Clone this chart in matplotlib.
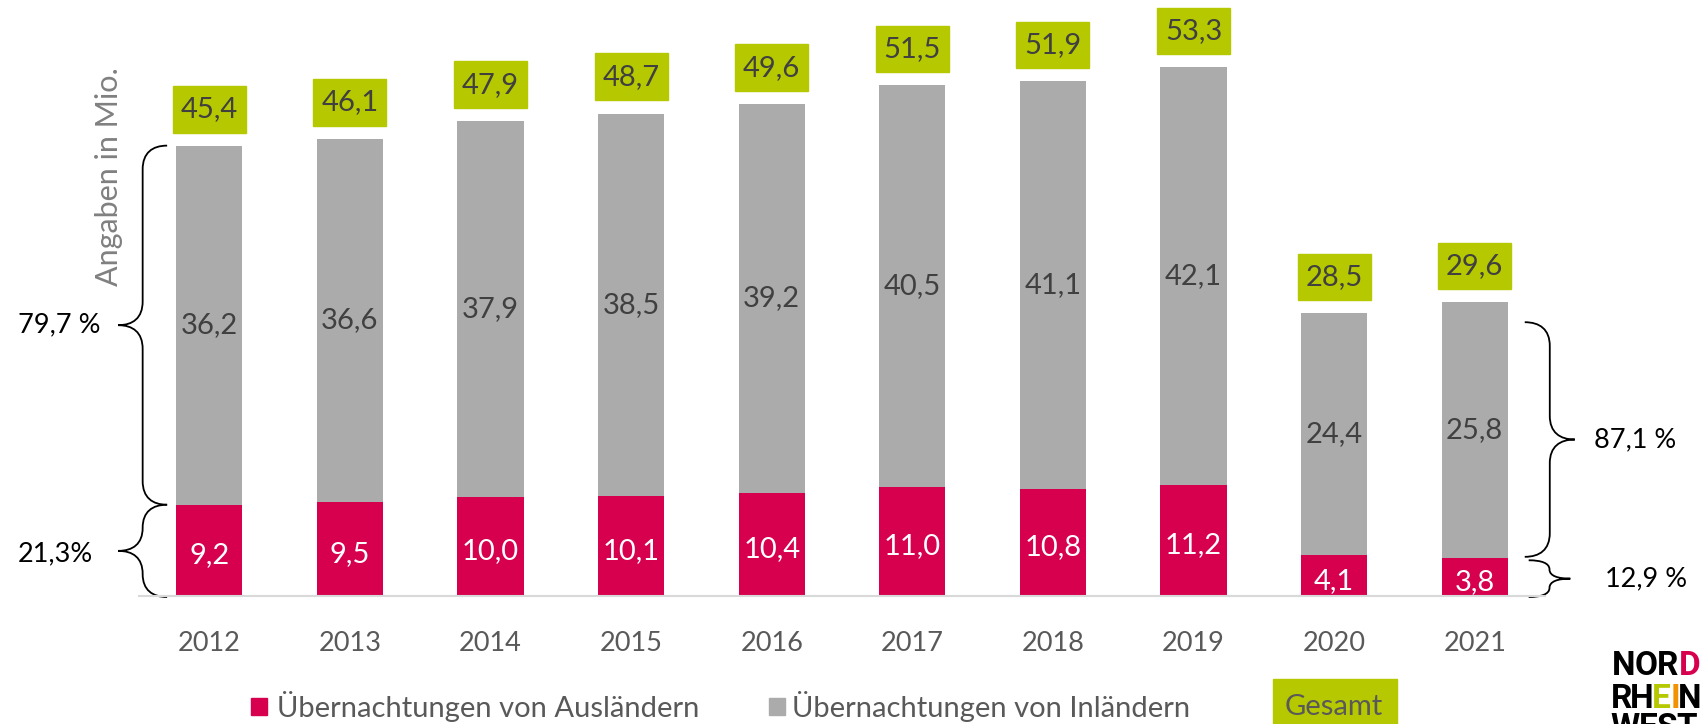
import matplotlib.pyplot as plt
from matplotlib.patches import Rectangle, PathPatch
from matplotlib.path import Path
import numpy as np

plt.rcParams['font.family'] = ['Lato', 'DejaVu Sans']

years = ['2012', '2013', '2014', '2015', '2016', '2017', '2018', '2019', '2020', '2021']
auslaender = [9.2, 9.5, 10.0, 10.1, 10.4, 11.0, 10.8, 11.2, 4.1, 3.8]
inlaender = [36.2, 36.6, 37.9, 38.5, 39.2, 40.5, 41.1, 42.1, 24.4, 25.8]
gesamt = [45.4, 46.1, 47.9, 48.7, 49.6, 51.5, 51.9, 53.3, 28.5, 29.6]

anteil_links = ['79,7 %', '21,3%']
anteil_rechts = ['87,1 %', '12,9 %']

pink = '#d6004f'
grey = '#ababab'
green = '#b5c800'
dark = '#404040'


def fmt(v):
    return f'{v:.1f}'.replace('.', ',')


def brace(ax, x_tip, x_end, y0, y1, r=2.4):
    # geschweifte Klammer, Spitze bei x_tip
    xm = (x_tip + x_end) / 2
    ym = (y0 + y1) / 2
    r = min(r, (y1 - y0) / 4)
    verts = [(x_end, y1),
             (x_end - (x_end - xm) * 0.6, y1), (xm, y1 - r * 0.3), (xm, y1 - r),
             (xm, ym + r),
             (xm, ym + r * 0.3), (xm - (xm - x_tip) * 0.4, ym), (x_tip, ym),
             (xm - (xm - x_tip) * 0.4, ym), (xm, ym - r * 0.3), (xm, ym - r),
             (xm, y0 + r),
             (xm, y0 + r * 0.3), (x_end - (x_end - xm) * 0.6, y0), (x_end, y0)]
    codes = [Path.MOVETO, Path.CURVE4, Path.CURVE4, Path.CURVE4, Path.LINETO,
             Path.CURVE4, Path.CURVE4, Path.CURVE4,
             Path.CURVE4, Path.CURVE4, Path.CURVE4, Path.LINETO,
             Path.CURVE4, Path.CURVE4, Path.CURVE4]
    ax.add_patch(PathPatch(Path(verts, codes), fill=False, lw=1.3,
                           edgecolor='black', clip_on=False))


W, H = 1706, 724
fig = plt.figure(figsize=(W / 100, H / 100), dpi=100)
ax = fig.add_axes([139 / W, 1 - 596 / H, 1406 / W, 60 * 9.92 / H])

x = np.arange(len(years))
bw = 0.47
ax.bar(x, auslaender, bw, color=pink)
ax.bar(x, inlaender, bw, bottom=auslaender, color=grey)

for i in range(len(years)):
    a, n, g = auslaender[i], inlaender[i], gesamt[i]
    ax.text(i, a / 2 - 0.5, fmt(a), ha='center', va='center', color='white', fontsize=21)
    ax.text(i, a + n / 2, fmt(n), ha='center', va='center', color=dark, fontsize=21)
    ax.add_patch(Rectangle((i - 0.26, g + 1.3), 0.52, 4.7, color=green, clip_on=False))
    ax.text(i, g + 1.3 + 2.35, fmt(g), ha='center', va='center', color=dark, fontsize=21)

ax.set_xlim(-0.5, 9.5)
ax.set_ylim(0, 60)
ax.set_xticks(x, years)
ax.set_yticks([])
ax.tick_params(axis='x', length=0, pad=25, labelsize=19.5, labelcolor='#595959')
for s in ['top', 'left', 'right']:
    ax.spines[s].set_visible(False)
ax.spines['bottom'].set_color('#d9d9d9')
ax.spines['bottom'].set_linewidth(1.5)

# Klammern links (2012)
brace(ax, -0.648, -0.30, auslaender[0], gesamt[0])
brace(ax, -0.648, -0.30, -0.1, auslaender[0])
ax.text(-1.36, (auslaender[0] + gesamt[0]) / 2, anteil_links[0], ha='left', va='center',
        fontsize=19.5, color='black')
ax.text(-1.36, auslaender[0] / 2 - 0.3, anteil_links[1], ha='left', va='center',
        fontsize=19.5, color='black')

# Klammern rechts (2021)
brace(ax, 9.712, 9.356, auslaender[9] + 0.15, gesamt[9] - 2.0)
brace(ax, 9.68, 9.384, -0.1, auslaender[9] - 0.2)
ax.text(9.847, (auslaender[9] + gesamt[9] - 2.0) / 2, anteil_rechts[0], ha='left',
        va='center', fontsize=19.5, color='black')
ax.text(9.93, auslaender[9] / 2 - 0.2, anteil_rechts[1], ha='left', va='center',
        fontsize=19.5, color='black')

ax.text(-0.71, 42.3, 'Angaben in Mio.', rotation=90, ha='center', va='center',
        fontsize=22, color='#808080')

# Legende
fig.patches.append(Rectangle((251 / W, 1 - 715 / H), 16 / W, 17 / H, color=pink,
                             transform=fig.transFigure))
fig.text(277 / W, 1 - 707 / H, 'Übernachtungen von Ausländern', ha='left', va='center',
         fontsize=21, color='#595959')
fig.patches.append(Rectangle((769 / W, 1 - 715 / H), 16 / W, 17 / H, color=grey,
                             transform=fig.transFigure))
fig.text(792 / W, 1 - 707 / H, 'Übernachtungen von Inländern', ha='left', va='center',
         fontsize=21, color='#595959')
fig.patches.append(Rectangle((1273 / W, 0), 124 / W, 45 / H, color=green,
                             transform=fig.transFigure, zorder=0))
fig.text(1334 / W, 1 - 707 / H, 'Gesamt', ha='center', va='center',
         fontsize=21, color='#595959', zorder=5)

# Logo
logo = [('N', 1624, 675, 'black'), ('O', 1646, 675, 'black'), ('R', 1668, 675, 'black'),
        ('D', 1690, 675, pink),
        ('R', 1622, 708, 'black'), ('H', 1642, 708, 'black'), ('E', 1661, 708, green),
        ('I', 1675, 708, '#f39200'), ('N', 1690, 708, 'black'),
        ('W', 1625, 737, 'black'), ('E', 1648, 737, 'black'), ('S', 1667, 737, 'black'),
        ('T', 1687, 737, 'black')]
for ch, lx, ly, c in logo:
    fig.text(lx / W, 1 - ly / H, ch, ha='center', va='baseline', fontsize=24,
             fontweight='bold', color=c, family=['Liberation Sans Narrow', 'Roboto'])

fig.savefig('out.png', dpi=100)
